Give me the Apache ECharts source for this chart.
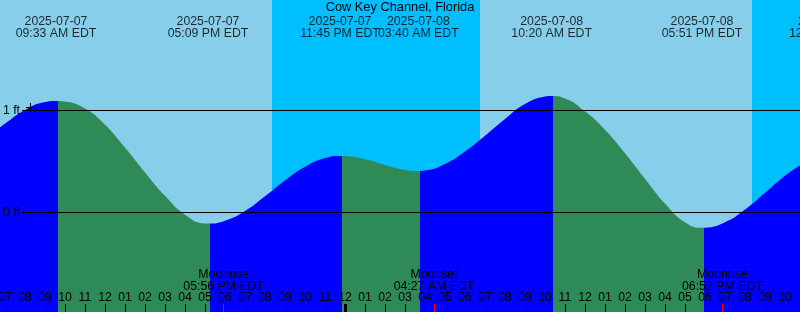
<!DOCTYPE html>
<html><head><meta charset="utf-8">
<script src="https://cdn.jsdelivr.net/npm/echarts@6/dist/echarts.min.js"></script>
<style>html,body{margin:0;padding:0;background:#87CEEB;} #c{width:800px;height:312px;}</style>
</head><body><div id="c"></div>
<script>
// ---- data (hours counted from 2025-07-07 07:00 EDT) ----
const chartTitle = 'Cow Key Channel, Florida';
const sampleHours = [-0.25, 0, 1, 2, 2.55, 3, 4, 5, 6, 7, 8, 9, 10, 10.15, 11, 12, 13, 14, 15, 16, 16.75,
  17, 18, 19, 20, 20.667, 21, 22, 23, 24, 25, 26, 27, 27.333, 28, 29, 30, 31, 32, 33, 34, 34.85,
  35, 36, 37, 38, 39, 39.75];
const sampleFeet = [0.833, 0.872, 1.006, 1.083, 1.094, 1.087, 1.019, 0.861, 0.637, 0.393, 0.164, -0.021, -0.107, -0.108,
  -0.08, 0.015, 0.16, 0.315, 0.448, 0.534, 0.555, 0.553, 0.521, 0.465, 0.418, 0.408, 0.412, 0.476, 0.598, 0.752,
  0.917, 1.063, 1.137, 1.143, 1.118, 0.992, 0.811, 0.581, 0.332, 0.089, -0.095, -0.15, -0.149, -0.095, 0.03,
  0.194, 0.361, 0.462];
const tideHours = [2.55, 10.15, 16.75, 20.667, 27.333, 34.85, 41.217];
const tideKinds = ['High', 'Low', 'High', 'Low', 'High', 'Low', 'High'];
const tideDates = ['2025-07-07', '2025-07-07', '2025-07-07', '2025-07-08', '2025-07-08', '2025-07-08', '2025-07-09'];
const tideTimes = ['09:33 AM EDT', '05:09 PM EDT', '11:45 PM EDT', '03:40 AM EDT', '10:20 AM EDT', '05:51 PM EDT', '12:13 AM EDT'];
const moonHours = [10.933, 21.45, 35.867];
const moonEvents = ['Moonrise', 'Moonset', 'Moonrise'];
const moonTimes = ['05:56 PM EDT', '04:27 AM EDT', '06:52 PM EDT'];
const nightStart = [13.35, 37.35];
const nightEnd = [23.75, 39.75];
const hourTicks = [0,1,2,3,4,5,6,7,8,9,10,11,12,13,14,15,16,17,18,19,20,21,22,23,24,25,26,27,28,29,30,31,32,33,34,35,36,37,38,39];
const hourLabels = ['07','08','09','10','11','12','01','02','03','04','05','06','07','08','09','10','11','12',
  '01','02','03','04','05','06','07','08','09','10','11','12','01','02','03','04','05','06','07','08','09','10'];
const midnightHours = [17];
const levelTicks = [0, 1];
const levelLabels = ['0 ft', '1 ft'];

// ---- layout / style ----
const X_MIN = -0.25, X_MAX = 39.75, Y_MIN = -0.975, Y_MAX = 2.083;
const COLOR_SHIFT = 0.085; // rising/falling colour edge drawn a hair after the event time
const FONT = 'Liberation Sans', FS = 12.3;
const RISE = '#0000FF', FALL = '#2E8B57', DAY = '#87CEEB', NIGHT = '#00BFFF';
const idx = (arr, v) => arr.findIndex(a => Math.abs(a - v) < 1e-6);

const pieces = tideHours.map((h, i) => ({
  gte: i > 0 ? tideHours[i - 1] + COLOR_SHIFT : X_MIN - 10,
  lt: h + COLOR_SHIFT,
  color: tideKinds[i] === 'High' ? RISE : FALL
}));

const chart = echarts.init(document.getElementById('c'), null, { renderer: 'canvas' });
const txt = { color: '#000', fontFamily: FONT, fontSize: FS, lineHeight: 12 };
const noLine = { show: false, onZero: false };
chart.setOption({
  animation: false,
  backgroundColor: DAY,
  title: { text: chartTitle, left: 'center', top: 0, padding: 0,
    textStyle: { color: '#000', fontFamily: FONT, fontSize: 12.8, fontWeight: 'normal', lineHeight: 15 } },
  grid: [
    { left: 0, right: 0, top: 0, bottom: 0, containLabel: false, outerBoundsMode: 'none' },
    { left: 22, right: 0, top: 0, bottom: 0, containLabel: false, outerBoundsMode: 'none' }
  ],
  xAxis: [
    { gridIndex: 0, type: 'value', min: X_MIN, max: X_MAX, position: 'bottom', z: 20,
      axisLine: noLine, splitLine: { show: false },
      axisTick: { show: true, inside: true, length: 8, customValues: hourTicks, lineStyle: { color: '#000', width: 1 } },
      axisLabel: Object.assign({ inside: true, margin: 8.5, customValues: hourTicks, hideOverlap: false,
        formatter: v => hourLabels[idx(hourTicks, v)] }, txt) },
    { gridIndex: 0, type: 'value', min: X_MIN, max: X_MAX, position: 'bottom', z: 21,
      axisLine: noLine, splitLine: { show: false },
      axisTick: { show: true, inside: true, length: 8, customValues: moonHours, lineStyle: { color: '#FF0000', width: 1 } },
      axisLabel: Object.assign({ inside: true, margin: 19, customValues: moonHours, hideOverlap: false,
        formatter: v => { const i = idx(moonHours, v); return moonEvents[i] + '\n' + moonTimes[i]; } }, txt) },
    { gridIndex: 0, type: 'value', min: X_MIN, max: X_MAX, position: 'bottom', z: 22,
      axisLine: noLine, splitLine: { show: false },
      axisTick: { show: true, inside: true, length: 8, customValues: midnightHours, lineStyle: { color: '#000', width: 3 } },
      axisLabel: { show: false } },
    { gridIndex: 1, type: 'value', min: X_MIN, max: X_MAX, show: false, axisLine: noLine }
  ],
  yAxis: [
    { gridIndex: 0, type: 'value', min: Y_MIN, max: Y_MAX, show: false, axisLine: noLine },
    { gridIndex: 1, type: 'value', min: Y_MIN, max: Y_MAX, position: 'left', z: 20,
      axisLine: noLine, axisTick: { show: false }, splitLine: { show: false },
      axisLabel: Object.assign({ margin: 2, customValues: levelTicks,
        formatter: v => levelLabels[idx(levelTicks, v)] }, txt) }
  ],
  visualMap: { type: 'piecewise', show: false, dimension: 0, seriesIndex: 1, pieces: pieces },
  series: [
    { type: 'line', xAxisIndex: 0, yAxisIndex: 0, data: [], z: 1, silent: true,
      markArea: { silent: true, itemStyle: { color: NIGHT, opacity: 1 },
        data: nightStart.map((s, i) => [{ xAxis: s }, { xAxis: nightEnd[i] }]) } },
    { type: 'line', xAxisIndex: 0, yAxisIndex: 0, z: 2, smooth: true, symbol: 'none',
      lineStyle: { width: 0 }, areaStyle: { opacity: 1, origin: 'start' },
      data: sampleHours.map((h, i) => [h, sampleFeet[i]]) },
    { type: 'scatter', xAxisIndex: 0, yAxisIndex: 0, z: 5, symbolSize: 0, clip: false, silent: true,
      data: tideHours.map(h => [h, Y_MAX]),
      label: Object.assign({ show: true, position: 'bottom', distance: 15.5, align: 'center',
        formatter: p => tideDates[p.dataIndex] + '\n' + tideTimes[p.dataIndex] }, txt) },
    { type: 'line', xAxisIndex: 3, yAxisIndex: 1, data: [], z: 10, silent: true,
      markLine: { silent: true, symbol: 'none', label: { show: false },
        lineStyle: { color: '#000', width: 1, type: 'solid' },
        data: levelTicks.map(v => ({ yAxis: v })) } }
  ],
  graphic: [
    { type: 'line', z: 100, shape: { x1: 26, y1: 107.5, x2: 35, y2: 107.5 }, style: { stroke: '#000', lineWidth: 1 } },
    { type: 'line', z: 100, shape: { x1: 30.5, y1: 103, x2: 30.5, y2: 112 }, style: { stroke: '#000', lineWidth: 1 } }
  ]
});
</script></body></html>
